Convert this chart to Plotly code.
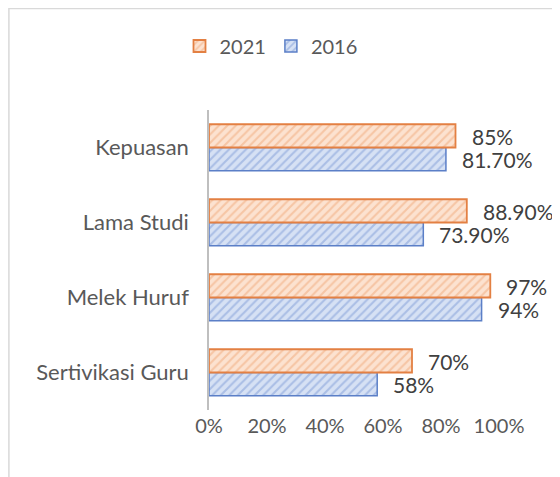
import plotly.graph_objects as go

categories = ["Sertivikasi Guru", "Melek Huruf", "Lama Studi", "Kepuasan"]
val_2016 = [58, 94, 73.9, 81.7]
val_2021 = [70, 97, 88.9, 85]
lbl_2016 = ["58%", "94%", "73.90%", "81.70%"]
lbl_2021 = ["70%", "97%", "88.90%", "85%"]
x_ticks = [0, 20, 40, 60, 80, 100]
x_ticktext = ["0%", "20%", "40%", "60%", "80%", "100%"]

font_family = "Lato, 'Open Sans', sans-serif"
grey = "#595959"

fig = go.Figure()

fig.add_trace(
    go.Bar(
        name="2016",
        y=categories,
        x=val_2016,
        orientation="h",
        marker=dict(
            color="#C9D7F0",
            line=dict(color="#5B7FC7", width=1.5),
            pattern=dict(shape="/", fgcolor="#7E9BD6", bgcolor="#D6E1F4", size=6, solidity=0.35),
        ),
    )
)
fig.add_trace(
    go.Bar(
        name="2021",
        y=categories,
        x=val_2021,
        orientation="h",
        marker=dict(
            color="#FAD6BE",
            line=dict(color="#E38043", width=1.8),
            pattern=dict(shape="/", fgcolor="#F0A878", bgcolor="#FCE2D0", size=6, solidity=0.35),
        ),
    )
)

# data labels, offset to the right of each bar end
for cat, v, t in zip(categories, val_2021, lbl_2021):
    fig.add_annotation(x=v, y=cat, text=t, xanchor="left", yanchor="middle", xshift=14, yshift=11.5,
                       showarrow=False, font=dict(size=21, color="#404040", family=font_family))
for cat, v, t in zip(categories, val_2016, lbl_2016):
    fig.add_annotation(x=v, y=cat, text=t, xanchor="left", yanchor="middle", xshift=14, yshift=-11.5,
                       showarrow=False, font=dict(size=21, color="#404040", family=font_family))

# chart frame (page has an 8px body offset)
fig.add_shape(type="rect", xref="paper", yref="paper", x0=-0.69, x1=1.4, y0=-0.5, y1=1.338,
              line=dict(color="#D9D9D9", width=1.5), fillcolor="rgba(0,0,0,0)", layer="below")

fig.update_layout(
    width=560,
    height=477,
    barmode="group",
    bargap=0.38,
    bargroupgap=0.0,
    plot_bgcolor="white",
    paper_bgcolor="white",
    font=dict(family=font_family, size=22, color=grey),
    margin=dict(l=201, r=69, t=102, b=75, autoexpand=False),
    legend=dict(
        orientation="h",
        traceorder="reversed",
        x=263 / 560,
        xref="container",
        xanchor="center",
        y=1 - 38 / 477,
        yref="container",
        yanchor="middle",
        font=dict(size=20, color=grey),
        itemwidth=30,
    ),
    xaxis=dict(
        range=[0, 100],
        tickvals=x_ticks,
        ticktext=x_ticktext,
        showgrid=False,
        zeroline=False,
        showline=False,
        automargin=False,
        ticklabelstandoff=2,
        tickfont=dict(size=20, color=grey),
    ),
    yaxis=dict(
        showline=True,
        linecolor="#BFBFBF",
        linewidth=1.5,
        showgrid=False,
        ticks="",
        automargin=False,
        ticklabelstandoff=14,
        tickfont=dict(size=22, color=grey),
    ),
)

fig.write_html("out.html")
